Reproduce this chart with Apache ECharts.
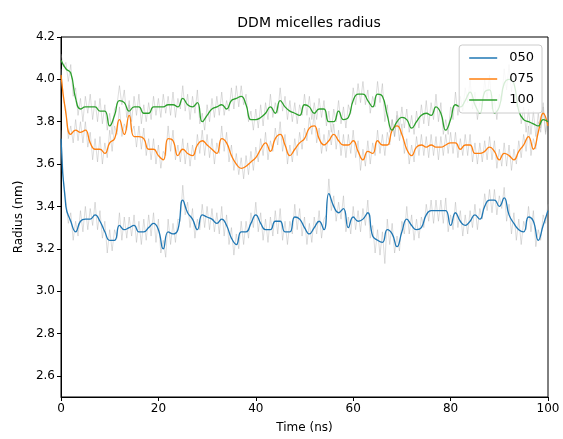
<!DOCTYPE html>
<html>
<head>
<meta charset="utf-8">
<script src="https://cdn.jsdelivr.net/npm/echarts@6/dist/echarts.min.js"></script>
<style>
  html, body { margin: 0; padding: 0; background: #fff; }
  #main { width: 563px; height: 439px; }
</style>
</head>
<body>
<div id="main"></div>
<script>
// series names (legend)
var names = ['050', '075', '100'];
var colors = ['#1f77b4', '#ff7f0e', '#2ca02c'];

// smoothed radius, one value per ns (0..100)
var smooth050 = [3.72,3.40,3.33,3.28,3.33,3.34,3.34,3.36,3.33,3.28,3.24,3.24,3.31,3.29,3.30,3.31,3.28,3.28,3.30,3.32,
  3.29,3.20,3.28,3.27,3.29,3.43,3.37,3.34,3.29,3.36,3.35,3.34,3.32,3.34,3.31,3.25,3.22,3.28,3.28,3.32,
  3.36,3.32,3.29,3.29,3.33,3.33,3.28,3.28,3.35,3.34,3.30,3.27,3.30,3.33,3.29,3.46,3.40,3.37,3.39,3.30,
  3.35,3.33,3.34,3.37,3.26,3.24,3.23,3.29,3.27,3.21,3.28,3.34,3.31,3.29,3.30,3.36,3.38,3.38,3.38,3.38,
  3.31,3.37,3.33,3.31,3.33,3.36,3.34,3.40,3.43,3.43,3.40,3.44,3.36,3.32,3.29,3.28,3.35,3.33,3.24,3.31,3.38];
var smooth075 = [4.02,3.84,3.74,3.76,3.75,3.76,3.70,3.67,3.67,3.65,3.70,3.72,3.81,3.74,3.83,3.73,3.73,3.72,3.67,3.67,
  3.64,3.62,3.72,3.71,3.64,3.67,3.65,3.64,3.69,3.71,3.69,3.67,3.65,3.72,3.70,3.64,3.60,3.58,3.59,3.61,
  3.63,3.67,3.70,3.66,3.72,3.74,3.69,3.64,3.67,3.70,3.72,3.77,3.78,3.72,3.69,3.71,3.74,3.71,3.69,3.69,
  3.71,3.66,3.62,3.66,3.65,3.71,3.69,3.69,3.76,3.78,3.74,3.67,3.64,3.68,3.69,3.68,3.69,3.68,3.68,3.69,
  3.70,3.70,3.67,3.69,3.69,3.65,3.65,3.66,3.68,3.66,3.62,3.65,3.64,3.62,3.66,3.69,3.73,3.67,3.75,3.84,3.78];
var smooth100 = [4.09,4.05,4.03,3.91,3.86,3.87,3.87,3.87,3.85,3.85,3.78,3.83,3.90,3.89,3.85,3.87,3.87,3.84,3.84,3.87,
  3.87,3.87,3.88,3.88,3.87,3.91,3.88,3.87,3.89,3.80,3.83,3.86,3.87,3.88,3.86,3.90,3.91,3.92,3.88,3.81,
  3.81,3.82,3.84,3.87,3.84,3.90,3.87,3.85,3.84,3.83,3.88,3.87,3.84,3.86,3.86,3.80,3.80,3.85,3.81,3.82,
  3.90,3.93,3.93,3.90,3.87,3.93,3.92,3.83,3.76,3.80,3.82,3.81,3.77,3.80,3.83,3.84,3.83,3.87,3.84,3.76,
  3.81,3.88,3.87,3.90,3.94,3.88,3.84,3.94,3.95,3.84,3.87,3.98,4.00,3.98,3.85,3.81,3.80,3.79,3.78,3.81,3.80];

// raw radius, one value per 0.5 ns (0..100)
var raw050 = [3.76,3.52,3.43,3.32,3.37,3.24,3.33,3.26,3.38,3.28,3.40,3.29,3.39,3.31,3.42,3.29,3.38,3.25,3.33,3.18,
  3.29,3.19,3.29,3.25,3.37,3.24,3.35,3.25,3.35,3.26,3.36,3.23,3.33,3.22,3.34,3.24,3.36,3.26,3.37,3.23,
  3.34,3.18,3.24,3.16,3.34,3.22,3.32,3.23,3.34,3.33,3.50,3.36,3.42,3.30,3.39,3.25,3.34,3.29,3.41,3.30,
  3.40,3.29,3.39,3.28,3.37,3.27,3.40,3.26,3.36,3.22,3.30,3.17,3.27,3.20,3.33,3.22,3.33,3.25,3.37,3.30,
  3.42,3.28,3.37,3.24,3.34,3.23,3.35,3.26,3.38,3.27,3.39,3.24,3.33,3.22,3.33,3.27,3.41,3.29,3.39,3.26,
  3.35,3.22,3.32,3.23,3.35,3.27,3.38,3.25,3.34,3.36,3.53,3.38,3.45,3.33,3.42,3.34,3.45,3.28,3.35,3.27,
  3.40,3.29,3.38,3.28,3.39,3.31,3.43,3.25,3.31,3.18,3.29,3.17,3.28,3.13,3.34,3.22,3.32,3.18,3.26,3.19,
  3.33,3.27,3.40,3.27,3.36,3.24,3.34,3.25,3.35,3.30,3.41,3.33,3.43,3.32,3.43,3.33,3.43,3.32,3.44,3.28,
  3.36,3.29,3.42,3.30,3.38,3.26,3.36,3.27,3.38,3.30,3.41,3.29,3.39,3.34,3.46,3.38,3.48,3.37,3.48,3.36,
  3.45,3.39,3.49,3.33,3.41,3.27,3.37,3.24,3.34,3.22,3.33,3.29,3.40,3.28,3.38,3.21,3.29,3.24,3.36,3.32,3.41];
var raw075 = [4.05,3.90,3.86,3.72,3.78,3.70,3.81,3.71,3.80,3.70,3.80,3.68,3.75,3.62,3.72,3.61,3.73,3.60,3.70,3.63,
  3.76,3.66,3.78,3.74,3.87,3.73,3.79,3.76,3.88,3.75,3.78,3.68,3.78,3.67,3.77,3.64,3.72,3.62,3.72,3.60,
  3.69,3.58,3.66,3.64,3.78,3.66,3.76,3.62,3.69,3.61,3.72,3.60,3.70,3.59,3.69,3.62,3.74,3.65,3.76,3.64,
  3.74,3.63,3.72,3.60,3.70,3.65,3.78,3.66,3.75,3.61,3.69,3.57,3.65,3.55,3.63,3.53,3.64,3.55,3.66,3.57,
  3.68,3.61,3.72,3.64,3.75,3.62,3.71,3.66,3.77,3.69,3.80,3.66,3.74,3.60,3.69,3.61,3.72,3.64,3.75,3.67,
  3.77,3.71,3.82,3.74,3.84,3.70,3.77,3.65,3.74,3.66,3.76,3.69,3.79,3.67,3.76,3.64,3.74,3.63,3.74,3.65,
  3.76,3.63,3.71,3.57,3.67,3.59,3.71,3.60,3.70,3.64,3.76,3.65,3.74,3.64,3.75,3.69,3.81,3.73,3.83,3.71,
  3.79,3.65,3.72,3.60,3.69,3.61,3.73,3.64,3.74,3.64,3.73,3.63,3.74,3.64,3.73,3.62,3.73,3.64,3.74,3.65,
  3.75,3.65,3.75,3.63,3.72,3.64,3.74,3.64,3.74,3.61,3.70,3.60,3.70,3.61,3.71,3.62,3.73,3.62,3.71,3.58,
  3.67,3.59,3.70,3.59,3.69,3.57,3.67,3.60,3.71,3.63,3.74,3.66,3.78,3.64,3.72,3.67,3.80,3.77,3.89,3.74,3.82];
var raw100 = [4.12,4.06,4.08,3.99,4.07,3.92,3.96,3.83,3.91,3.80,3.92,3.84,3.93,3.81,3.90,3.80,3.91,3.79,3.88,3.76,
  3.84,3.74,3.86,3.88,3.97,3.88,3.95,3.82,3.90,3.80,3.92,3.83,3.93,3.79,3.88,3.80,3.89,3.81,3.92,3.83,
  3.91,3.82,3.93,3.84,3.92,3.83,3.94,3.82,3.91,3.86,3.97,3.85,3.93,3.81,3.92,3.84,3.95,3.79,3.84,3.76,
  3.88,3.80,3.91,3.82,3.92,3.83,3.94,3.83,3.90,3.85,3.96,3.86,3.97,3.87,3.97,3.88,3.93,3.80,3.85,3.76,
  3.86,3.77,3.88,3.78,3.89,3.81,3.93,3.82,3.89,3.84,3.96,3.85,3.92,3.81,3.90,3.80,3.89,3.79,3.88,3.83,
  3.93,3.83,3.92,3.81,3.89,3.81,3.91,3.82,3.90,3.78,3.85,3.75,3.86,3.80,3.90,3.79,3.87,3.77,3.88,3.84,
  3.96,3.88,3.98,3.89,3.99,3.88,3.95,3.84,3.92,3.87,3.99,3.89,3.98,3.80,3.88,3.75,3.81,3.73,3.85,3.77,
  3.87,3.77,3.86,3.75,3.83,3.74,3.85,3.77,3.88,3.79,3.90,3.78,3.89,3.81,3.93,3.80,3.89,3.74,3.81,3.74,
  3.87,3.81,3.94,3.83,3.92,3.85,3.96,3.89,4.00,3.86,3.94,3.81,3.89,3.87,4.00,3.91,4.02,3.86,3.90,3.81,
  3.93,3.90,4.05,3.95,4.07,3.94,4.04,3.87,3.91,3.79,3.87,3.75,3.86,3.74,3.85,3.73,3.84,3.75,3.87,3.75,3.84];

var xTicks = [0, 20, 40, 60, 80, 100];
var yTicks = [2.6, 2.8, 3.0, 3.2, 3.4, 3.6, 3.8, 4.0, 4.2];

var font = 'DejaVu Sans';

function pairs(values, step) {
    var out = [];
    for (var i = 0; i < values.length; i++) {
        out.push([i * step, values[i]]);
    }
    return out;
}

var myChart = echarts.init(document.getElementById('main'), null, { renderer: 'canvas' });

var raws = [raw050, raw075, raw100];
var smooths = [smooth050, smooth075, smooth100];
var series = [];

// raw traces first (light grey, underneath)
for (var k = 0; k < raws.length; k++) {
    series.push({
        name: 'raw' + names[k],
        type: 'line',
        data: pairs(raws[k], 0.5),
        showSymbol: false,
        silent: true,
        z: 1,
        lineStyle: { color: 'rgba(170,170,170,0.4)', width: 1 },
        animation: false
    });
}
for (var k = 0; k < smooths.length; k++) {
    series.push({
        name: names[k],
        type: 'line',
        data: pairs(smooths[k], 1),
        smooth: 0.5,
        showSymbol: false,
        z: 3,
        color: colors[k],
        lineStyle: { color: colors[k], width: 1.3 },
        animation: false
    });
}

var option = {
    backgroundColor: '#fff',
    animation: false,
    title: {
        text: 'DDM micelles radius',
        left: 304,
        textAlign: 'center',
        top: 11,
        textStyle: { fontFamily: font, fontSize: 14, fontWeight: 'normal', color: '#000' }
    },
    legend: {
        data: names,
        orient: 'vertical',
        right: 21,
        top: 45,
        icon: 'rect',
        itemWidth: 28,
        itemHeight: 1.5,
        itemGap: 7,
        padding: [6, 8, 6, 10],
        backgroundColor: 'rgba(255,255,255,0.8)',
        borderColor: '#cccccc',
        borderWidth: 1,
        borderRadius: 3,
        textStyle: { fontFamily: font, fontSize: 13, color: '#000', lineHeight: 14, padding: [0, 0, 0, 7] }
    },
    grid: {
        left: 61,
        right: 15,
        top: 37,
        bottom: 40,
        show: true,
        borderColor: '#000',
        borderWidth: 1,
        backgroundColor: 'transparent'
    },
    xAxis: {
        type: 'value',
        min: 0,
        max: 100,
        interval: 20,
        name: 'Time (ns)',
        nameLocation: 'middle',
        nameGap: 25,
        nameTextStyle: { fontFamily: font, fontSize: 12, color: '#000' },
        axisLine: { show: true, lineStyle: { color: '#000', width: 1 } },
        axisTick: { show: true, length: 4, lineStyle: { color: '#000' } },
        axisLabel: { fontFamily: font, fontSize: 12, color: '#000', margin: 6,
            customValues: xTicks },
        splitLine: { show: false }
    },
    yAxis: {
        type: 'value',
        min: 2.5,
        max: 4.2,
        name: 'Radius (nm)',
        nameLocation: 'middle',
        nameGap: 36,
        nameTextStyle: { fontFamily: font, fontSize: 12, color: '#000' },
        axisLine: { show: true, lineStyle: { color: '#000', width: 1 } },
        axisTick: { show: true, length: 4, lineStyle: { color: '#000' }, customValues: yTicks },
        axisLabel: { fontFamily: font, fontSize: 12, color: '#000', margin: 6,
            customValues: yTicks,
            formatter: function (v) { return v.toFixed(1); } },
        splitLine: { show: false }
    },
    series: series
};

myChart.setOption(option);
</script>
</body>
</html>
